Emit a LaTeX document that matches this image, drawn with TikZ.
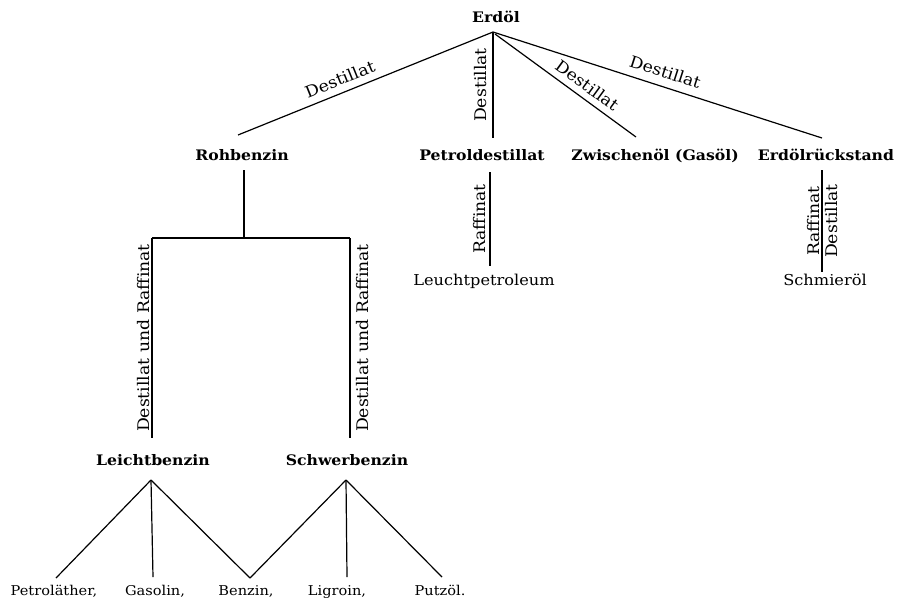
\documentclass[tikz,border=0pt]{standalone}
\usepackage{fontspec}
\setmainfont{DejaVu Serif}[FakeStretch=1.08]
\begin{document}
\begin{tikzpicture}[x=1pt,y=-1pt,
  every node/.style={inner sep=0pt, anchor=base},
  main/.style={font=\fontsize{14.5}{16}\selectfont\bfseries},
  prod/.style={font=\fontsize{15}{17}\selectfont},
  end/.style={font=\fontsize{13.5}{16}\selectfont},
  lbl/.style={font=\fontsize{16}{18}\selectfont, inner sep=3pt},
  conn/.style={line width=1.2pt}]
\useasboundingbox (0,0) rectangle (901,600);
% main nodes (placed at their baselines)
\node[main] (erdoel) at (496,22) {Erdöl};
\node[main] (roh) at (242,160) {Rohbenzin};
\node[main] (petd) at (482,160) {Petroldestillat};
\node[main] (zw) at (655,160) {Zwischenöl (Gasöl)};
\node[main] (rueck) at (826,160) {Erdölrückstand};
\node[main] (leicht) at (153,465) {Leichtbenzin};
\node[main] (schwer) at (347,465) {Schwerbenzin};
\node[prod] (leucht) at (484,285) {Leuchtpetroleum};
\node[prod] (schmier) at (825,285) {Schmieröl};
\node[end] (pae) at (54,595) {Petroläther,};
\node[end] (gas) at (155,595) {Gasolin,};
\node[end] (benz) at (246,595) {Benzin,};
\node[end] (lig) at (337,595) {Ligroin,};
\node[end] (putz) at (440,595) {Putzöl.};
% coordinates
\coordinate (eA) at (493,32);
\coordinate (eB) at (495,34);
\coordinate (rohT) at (238,135);
\coordinate (petT) at (493,138);
\coordinate (zwT) at (636,137);
\coordinate (rueT) at (822,138);
\coordinate (rohB) at (244,170);
\coordinate (bar) at (244,238);
\coordinate (barL) at (152,238);
\coordinate (barR) at (350,238);
\coordinate (leiT) at (152,438);
\coordinate (schT) at (350,438);
\coordinate (petB) at (490,172);
\coordinate (leuT) at (490,266);
\coordinate (rueB) at (822,170);
\coordinate (schmT) at (822,272);
\coordinate (leiB) at (151,480);
\coordinate (schB) at (346,480);
\coordinate (paeT) at (56,578);
\coordinate (gasT) at (153,577);
\coordinate (benT) at (250,578);
\coordinate (ligT) at (347,577);
\coordinate (putT) at (442,577);
% top connectors
\draw[conn] (eA) -- (rohT) node[lbl, anchor=center, pos=0.58, sloped, above=4pt] {Destillat};
\draw[conn] (eA) -- (petT) node[lbl, midway, rotate=90, anchor=south, inner sep=6pt] {Destillat};
\draw[conn] (eB) -- (zwT) node[lbl, anchor=center, pos=0.6, sloped, above=3pt] {Destillat};
\draw[conn] (eA) -- (rueT) node[lbl, anchor=center, pos=0.51, sloped, above=5pt] {Destillat};
% Rohbenzin branch
\draw[conn] (rohB) -- (bar);
\draw[conn] (barL) -- (barR);
\draw[conn] (barL) -- (leiT) node[lbl, midway, rotate=90, anchor=south, inner sep=2pt] {Destillat und Raffinat};
\draw[conn] (barR) -- (schT) node[lbl, midway, rotate=90, anchor=north, inner sep=6pt] {Destillat und Raffinat};
% Petroldestillat
\draw[conn] (petB) -- (leuT) node[lbl, midway, rotate=90, anchor=south, inner sep=4pt] {Raffinat};
% Erdölrückstand
\draw[conn] (rueB) -- (schmT)
  node[lbl, midway, rotate=90, anchor=south, inner sep=1.5pt] {Raffinat}
  node[lbl, midway, rotate=90, anchor=north, inner sep=3pt] {Destillat};
% bottom
\draw[conn] (leiB) -- (paeT);
\draw[conn] (leiB) -- (gasT);
\draw[conn] (leiB) -- (benT);
\draw[conn] (schB) -- (benT);
\draw[conn] (schB) -- (ligT);
\draw[conn] (schB) -- (putT);
\end{tikzpicture}
\end{document}
